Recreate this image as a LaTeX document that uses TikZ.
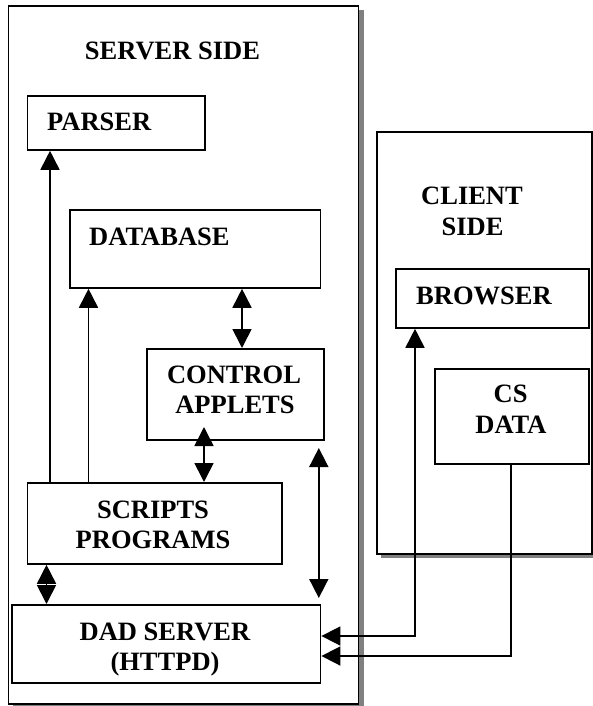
\documentclass[tikz,border=0pt]{standalone}
\usepackage{fontspec}
\setmainfont{Liberation Serif}
\usetikzlibrary{arrows.meta}
\begin{document}
\begin{tikzpicture}[x=1pt,y=-1pt,
 box/.style={draw, line width=1.8pt, fill=white, inner sep=0pt, anchor=north west},
 lbl/.style={font=\bfseries\fontsize{26.5}{30}\selectfont, inner sep=0pt},
 conn/.style={line width=1.7pt},
 shadowfill/.style={fill=black!50},
 >={Triangle[length=19pt,width=19pt]}]
\useasboundingbox (0,0) rectangle (593,706);
% shadows
\fill[shadowfill] (12.6,10) rectangle (364,708);
\fill[shadowfill] (381,136) rectangle (597,558);
% containers
\node[box, minimum width=350pt, minimum height=697.7pt] (server) at (7.6,5) {};
\node[box, minimum width=215pt, minimum height=422pt] (client) at (376,131) {};
% boxes
\node[box, minimum width=177.5pt, minimum height=54pt] (parser) at (26.5,95) {};
\node[box, minimum width=250.8pt, minimum height=78pt] (database) at (68.8,209) {};
\node[box, minimum width=177pt, minimum height=91pt] (control) at (146,348) {};
\node[box, minimum width=254.5pt, minimum height=81pt] (scripts) at (26.5,482) {};
\node[box, minimum width=308.6pt, minimum height=77.7pt] (dad) at (11,604) {};
\node[box, minimum width=193pt, minimum height=59pt] (browser) at (395,268) {};
\node[box, minimum width=154pt, minimum height=95pt] (csdata) at (434,368) {};
% texts
\node[lbl, anchor=base] (t1) at (172.5,60) {SERVER SIDE};
\node[lbl, anchor=base west] (t2) at (47,131) {PARSER};
\node[lbl, anchor=base west] (t3) at (89,245) {DATABASE};
\node[lbl, anchor=base] (t4) at (234,383) {CONTROL};
\node[lbl, anchor=base] (t5) at (235,413) {APPLETS};
\node[lbl, anchor=base] (t6) at (472,204) {CLIENT};
\node[lbl, anchor=base] (t7) at (472.5,235) {SIDE};
\node[lbl, anchor=base west] (t8) at (416,304) {BROWSER};
\node[lbl, anchor=base] (t9) at (510.6,402) {CS};
\node[lbl, anchor=base] (t10) at (511,433) {DATA};
\node[lbl, anchor=base] (t11) at (153,518) {SCRIPTS};
\node[lbl, anchor=base] (t12) at (153,548) {PROGRAMS};
\node[lbl, anchor=base] (t13) at (165,640) {DAD SERVER};
\node[lbl, anchor=base] (t14) at (165,670) {(HTTPD)};
% helper coordinates
\coordinate (xp) at (50,0);
\coordinate (xd) at (88.5,0);
\coordinate (xdc) at (242,0);
\coordinate (xcs) at (204,0);
\coordinate (xsd) at (46.5,0);
\coordinate (xb) at (415,0);
\coordinate (xc) at (511,0);
\coordinate (fa) at (318.8,448);
\coordinate (fb) at (318.8,598);
\coordinate (ct) at (204,427);
\coordinate (yb) at (0,636);
\coordinate (yc) at (0,656);
% connectors
\draw[conn,->] (xp |- scripts.north) -- (xp |- parser.south);
\draw[conn,->] (xd |- scripts.north) -- (xd |- database.south);
\draw[conn,<->] (xdc |- database.south) -- (xdc |- control.north);
\draw[conn,<->] (ct) -- (xcs |- scripts.north);
\draw[conn,<->] (fa) -- (fb);
\draw[conn,<->] (xsd |- scripts.south) -- (xsd |- dad.north);
\draw[conn,<->] (xb |- browser.south) |- (dad.east |- yb);
\draw[conn,->] (xc |- csdata.south) |- (dad.east |- yc);
\end{tikzpicture}
\end{document}
